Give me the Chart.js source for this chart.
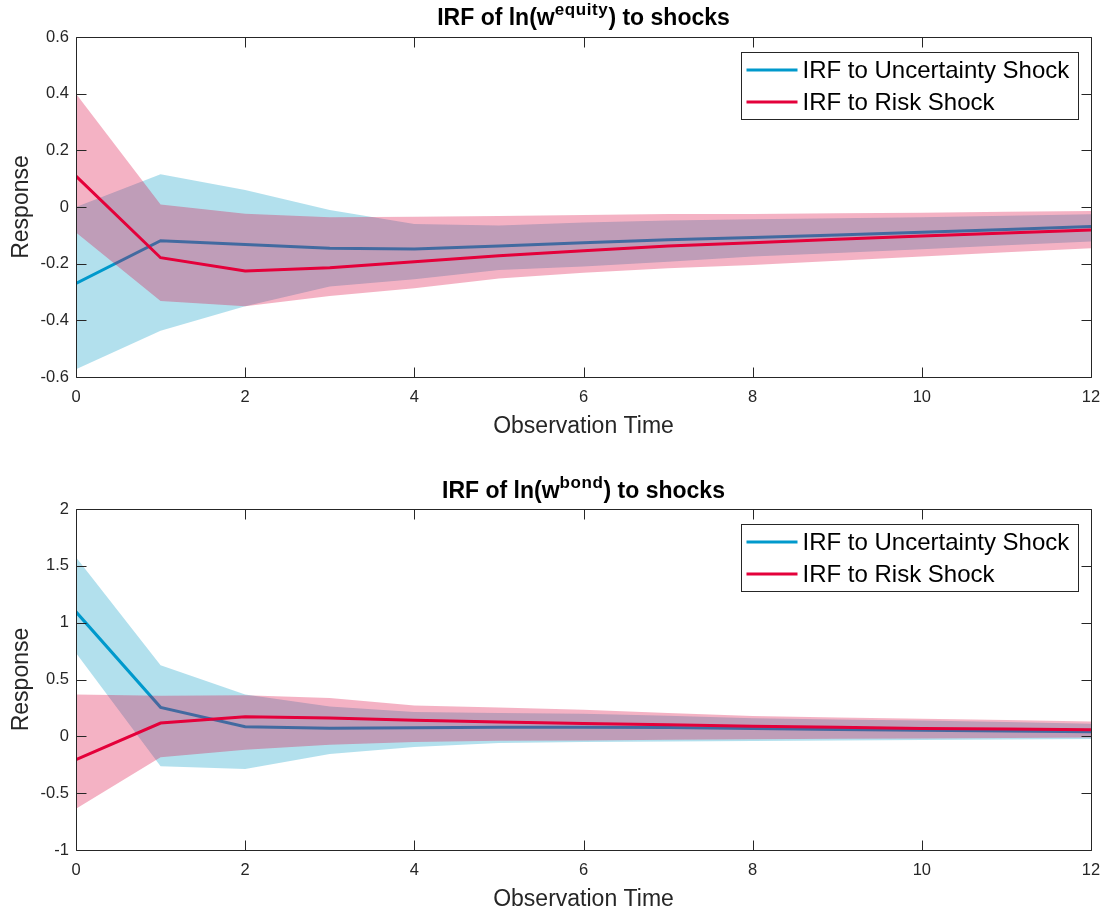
<!DOCTYPE html>
<html>
<head>
<meta charset="utf-8">
<script src="https://cdn.jsdelivr.net/npm/chart.js@4.4.1/dist/chart.umd.min.js"></script>
<style>
  body { margin:0; background:#fff; width:1113px; height:913px; overflow:hidden; position:relative;
         font-family:"Liberation Sans", Arial, sans-serif; }
  canvas { position:absolute; left:0; }
  .title { position:absolute; left:76px; width:1015px; text-align:center; font-weight:bold;
           font-size:23px; line-height:23px; color:#000; white-space:nowrap; z-index:2; }
  .title .sup { font-size:17px; position:relative; top:-10px; letter-spacing:0.6px; }
</style>
</head>
<body>
<canvas id="c1" width="1113" height="456" style="top:0"></canvas>
<canvas id="c2" width="1113" height="457" style="top:456px"></canvas>
<div class="title" style="top:6px">IRF of ln(w<span class="sup">equity</span>) to shocks</div>
<div class="title" style="top:479px">IRF of ln(w<span class="sup">bond</span>) to shocks</div>
<script>
// ---------- data ----------
const steps = [0, 1, 2, 3, 4, 5, 6, 7, 8, 9, 10, 11, 12];
const xTicks = [0, 2, 4, 6, 8, 10, 12];
const eqYTicks = [-0.6, -0.4, -0.2, 0, 0.2, 0.4, 0.6];
const bdYTicks = [-1, -0.5, 0, 0.5, 1, 1.5, 2];
const seriesNames = ['IRF to Uncertainty Shock', 'IRF to Risk Shock'];
const xTitle = 'Observation Time';
const yTitle = 'Response';

// equity panel
const eqUnc    = [-0.270, -0.119, -0.132, -0.146, -0.148, -0.138, -0.126, -0.116, -0.108, -0.099, -0.089, -0.079, -0.069];
const eqUncHi  = [ 0.000,  0.116,  0.060, -0.011, -0.060, -0.065, -0.055, -0.048, -0.043, -0.040, -0.036, -0.031, -0.026];
const eqUncLo  = [-0.573, -0.437, -0.350, -0.281, -0.255, -0.222, -0.210, -0.193, -0.175, -0.162, -0.149, -0.135, -0.122];
const eqRisk   = [ 0.109, -0.179, -0.226, -0.214, -0.193, -0.172, -0.154, -0.138, -0.126, -0.114, -0.102, -0.092, -0.081];
const eqRiskHi = [ 0.400,  0.009, -0.024, -0.036, -0.034, -0.032, -0.028, -0.025, -0.025, -0.022, -0.020, -0.017, -0.014];
const eqRiskLo = [-0.090, -0.332, -0.350, -0.314, -0.287, -0.252, -0.232, -0.216, -0.205, -0.190, -0.175, -0.160, -0.146];

// bond panel
const bdUnc    = [ 1.095,  0.255,  0.085,  0.072,  0.076,  0.080,  0.081,  0.077,  0.068,  0.061,  0.054,  0.047,  0.040];
const bdUncHi  = [ 1.576,  0.625,  0.367,  0.263,  0.214,  0.205,  0.199,  0.181,  0.158,  0.148,  0.140,  0.126,  0.111];
const bdUncLo  = [ 0.734, -0.264, -0.288, -0.156, -0.094, -0.059, -0.050, -0.045, -0.040, -0.036, -0.033, -0.028, -0.024];
const bdRisk   = [-0.205,  0.117,  0.173,  0.161,  0.142,  0.126,  0.114,  0.101,  0.089,  0.079,  0.070,  0.064,  0.058];
const bdRiskHi = [ 0.367,  0.358,  0.361,  0.337,  0.272,  0.254,  0.234,  0.205,  0.178,  0.165,  0.155,  0.143,  0.131];
const bdRiskLo = [-0.637, -0.185, -0.117, -0.074, -0.050, -0.039, -0.036, -0.030, -0.025, -0.021, -0.018, -0.014, -0.010];

// ---------- styles ----------
const FONT = '"Liberation Sans", Arial, sans-serif';
const AX = '#262626';
const blueLine = 'rgb(0,153,204)';
const blueFill = 'rgba(0,153,195,0.30)';
const redLine  = 'rgb(228,0,58)';
const redFill  = 'rgba(220,0,60,0.30)';

Chart.defaults.font.family = FONT;

function pts(arr) { return steps.map((t, i) => ({ x: t, y: arr[i] })); }

const boxPlugin = {
  id: 'matlabBox',
  afterDatasetsDraw(chart) {
    const { ctx, chartArea: a, scales: { x, y } } = chart;
    ctx.save();
    ctx.strokeStyle = AX; ctx.lineWidth = 1;
    const L = Math.round(a.left) + 0.5, T = Math.round(a.top) + 0.5;
    const R = Math.round(a.right) + 0.5, B = Math.round(a.bottom) + 0.5;
    ctx.beginPath();
    ctx.rect(L, T, R - L, B - T);
    const tl = 10;
    x.ticks.forEach(t => {
      const px = Math.round(x.getPixelForValue(t.value)) + 0.5;
      ctx.moveTo(px, B); ctx.lineTo(px, B - tl);
      ctx.moveTo(px, T); ctx.lineTo(px, T + tl);
    });
    y.ticks.forEach(t => {
      const py = Math.round(y.getPixelForValue(t.value)) + 0.5;
      ctx.moveTo(L, py); ctx.lineTo(L + tl, py);
      ctx.moveTo(R, py); ctx.lineTo(R - tl, py);
    });
    ctx.stroke();
    ctx.restore();
  }
};

const legendPlugin = {
  id: 'boxLegend',
  afterDraw(chart) {
    const items = chart.data.datasets.filter(d => d.label);
    const a = chart.chartArea, ctx = chart.ctx;
    const w = 337, h = 67;
    const left = Math.round(a.right - 350) + 0.5, top = Math.round(a.top + 15) + 0.5;
    ctx.save();
    ctx.fillStyle = '#fff'; ctx.fillRect(left, top, w, h);
    ctx.strokeStyle = AX; ctx.lineWidth = 1; ctx.strokeRect(left, top, w, h);
    ctx.font = '24px ' + FONT;
    ctx.textBaseline = 'middle'; ctx.textAlign = 'left';
    items.forEach((d, i) => {
      const yy = Math.round(top + 17 + i * 32);
      ctx.strokeStyle = d.borderColor; ctx.lineWidth = 3;
      ctx.beginPath(); ctx.moveTo(left + 5, yy); ctx.lineTo(left + 56, yy); ctx.stroke();
      ctx.fillStyle = '#000';
      ctx.fillText(d.label, left + 61, yy + 1.5);
    });
    ctx.restore();
  }
};

function band(hi, lo, color, orderHi) {
  return [
    { label: '', data: pts(hi), fill: '+1', backgroundColor: color, borderColor: 'transparent',
      borderWidth: 0, pointRadius: 0, order: orderHi },
    { label: '', data: pts(lo), fill: false, backgroundColor: 'transparent', borderColor: 'transparent',
      borderWidth: 0, pointRadius: 0, order: orderHi - 1 }
  ];
}

function makeChart(id, opt) {
  const datasets = [
    ...band(opt.uncHi, opt.uncLo, blueFill, 6),
    { label: seriesNames[0], data: pts(opt.unc), borderColor: blueLine, borderWidth: 3,
      pointRadius: 0, fill: false, order: 4 },
    ...band(opt.riskHi, opt.riskLo, redFill, 3),
    { label: seriesNames[1], data: pts(opt.risk), borderColor: redLine, borderWidth: 3,
      pointRadius: 0, fill: false, order: 1 }
  ];
  return new Chart(document.getElementById(id), {
    type: 'line',
    data: { datasets },
    options: {
      responsive: false, animation: false, devicePixelRatio: 1,
      layout: { padding: { top: opt.padTop, right: 22, bottom: 0, left: 0 } },
      elements: { line: { tension: 0 } },
      plugins: { legend: { display: false }, tooltip: { enabled: false }, title: { display: false } },
      scales: {
        x: {
          type: 'linear', min: 0, max: 12,
          afterBuildTicks: s => { s.ticks = xTicks.map(v => ({ value: v })); },
          afterFit: s => { s.height = opt.xH; },
          grid: { display: false, drawTicks: false }, border: { display: false },
          ticks: { padding: 11, color: AX, font: { size: 16.5 }, maxRotation: 0, autoSkip: false,
                   callback: v => String(v) },
          title: { display: true, text: xTitle, color: AX, font: { size: 23 },
                   padding: { top: 0, bottom: opt.xTitlePad } }
        },
        y: {
          min: opt.yTicks[0], max: opt.yTicks[opt.yTicks.length - 1],
          afterBuildTicks: s => { s.ticks = opt.yTicks.map(v => ({ value: v })); },
          afterFit: s => { s.width = 76; },
          grid: { display: false, drawTicks: false }, border: { display: false },
          ticks: { padding: 7, color: AX, font: { size: 16.5 }, autoSkip: false,
                   callback: v => String(v) },
          title: { display: true, text: yTitle, color: AX, font: { size: 23 },
                   padding: { top: 8, bottom: 0 } }
        }
      }
    },
    plugins: [boxPlugin, legendPlugin]
  });
}

makeChart('c1', { unc: eqUnc, uncHi: eqUncHi, uncLo: eqUncLo, risk: eqRisk, riskHi: eqRiskHi, riskLo: eqRiskLo,
                  yTicks: eqYTicks, padTop: 37, xH: 79, xTitlePad: 16 });
makeChart('c2', { unc: bdUnc, uncHi: bdUncHi, uncLo: bdUncLo, risk: bdRisk, riskHi: bdRiskHi, riskLo: bdRiskLo,
                  yTicks: bdYTicks, padTop: 53, xH: 63, xTitlePad: 0 });
</script>
</body>
</html>
